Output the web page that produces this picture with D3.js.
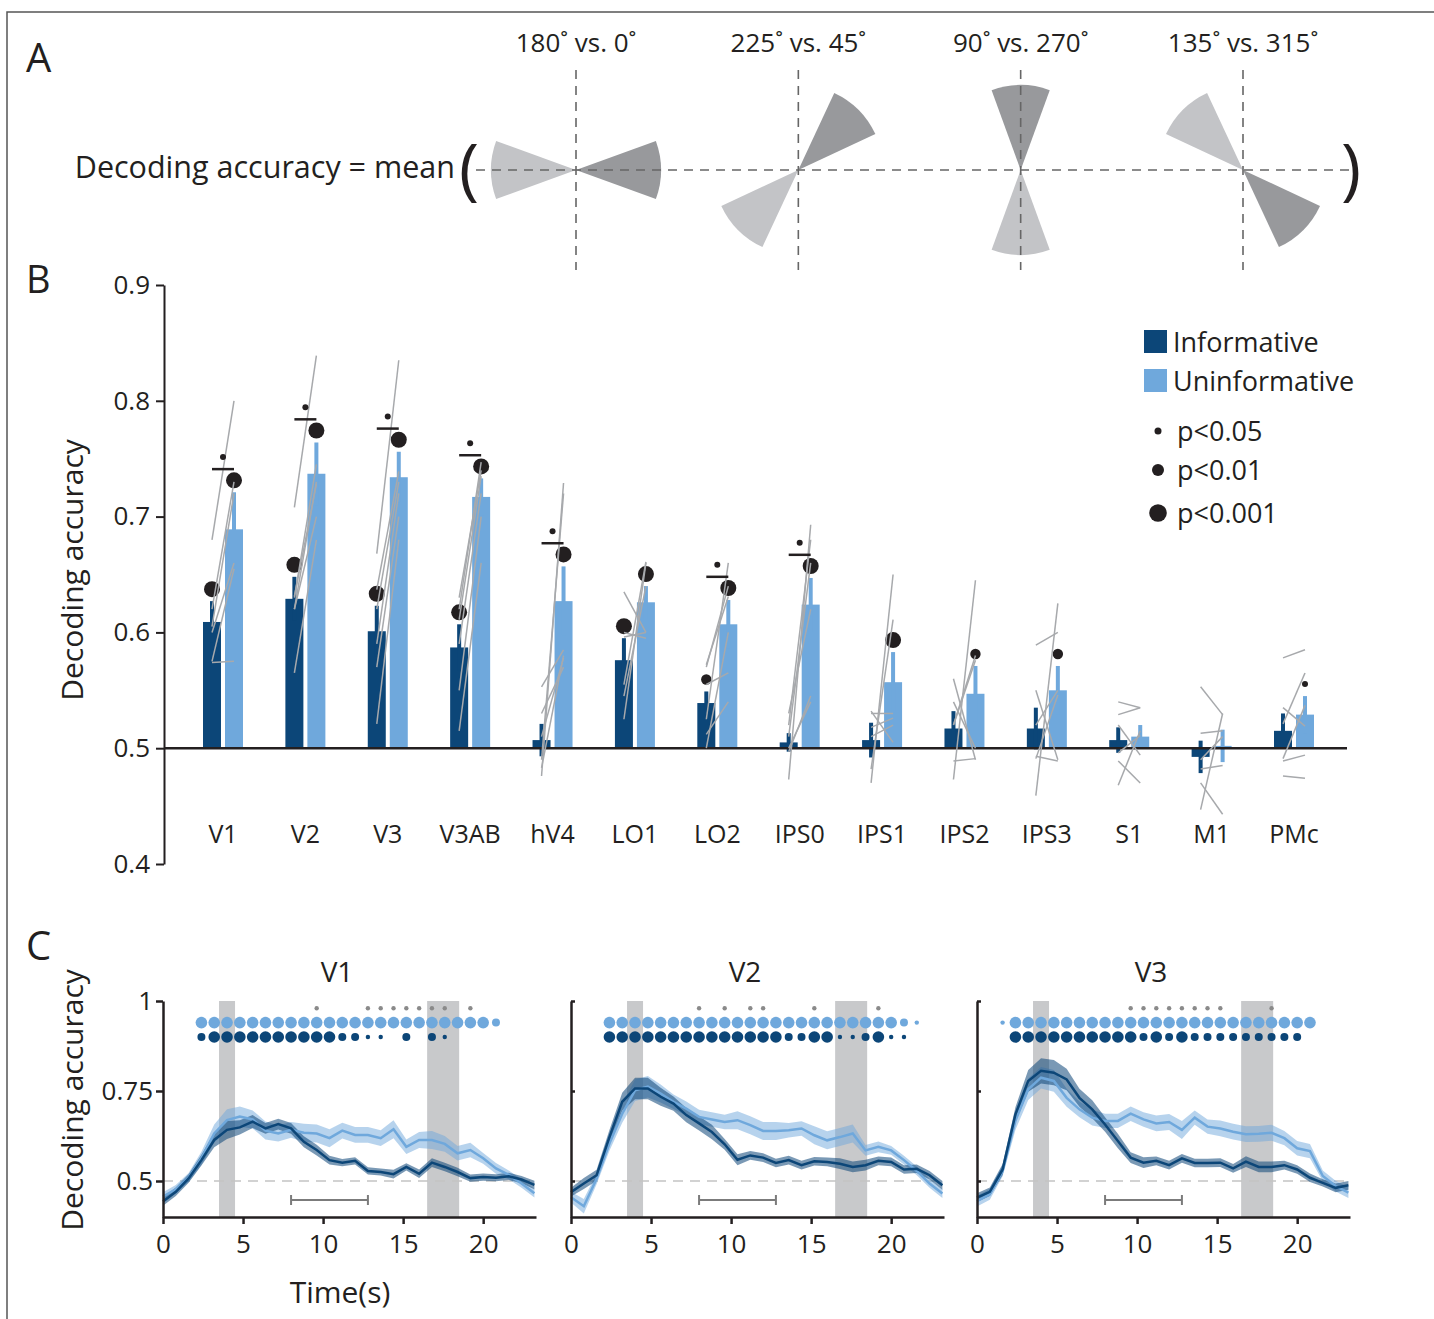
<!DOCTYPE html>
<html>
<head>
<meta charset="utf-8">
<script src="https://cdn.jsdelivr.net/npm/d3@7"></script>
<style>
  body { margin: 0; background: #fff; }
  text { font-family: "Open Sans", sans-serif; fill: #231f20; }
</style>
</head>
<body>
<div id="chart"></div>
<script>
// ---- panel A data ----
var pairLabels = ["180˚ vs. 0˚", "225˚ vs. 45˚", "90˚ vs. 270˚", "135˚ vs. 315˚"];
var lightAngles = [180, 225, 270, 135];
var darkAngles = [0, 45, 90, 315];

// ---- panel B data ----
var regions = ["V1", "V2", "V3", "V3AB", "hV4", "LO1", "LO2", "IPS0", "IPS1", "IPS2", "IPS3", "S1", "M1", "PMc"];
var infMean   = [0.609, 0.629, 0.601, 0.587, 0.507, 0.576, 0.539, 0.505, 0.507, 0.517, 0.517, 0.507, 0.4925, 0.515];
var infSem    = [0.018, 0.019, 0.022, 0.020, 0.014, 0.019, 0.010, 0.008, 0.015, 0.015, 0.018, 0.011, 0.014, 0.015];
var uninfMean = [0.689, 0.737, 0.734, 0.717, 0.627, 0.626, 0.607, 0.624, 0.557, 0.547, 0.550, 0.510, 0.502, 0.529];
var uninfSem  = [0.032, 0.027, 0.022, 0.016, 0.030, 0.014, 0.021, 0.023, 0.026, 0.024, 0.021, 0.010, 0.014, 0.016];
// 0 = n.s., 1 = p<0.05, 2 = p<0.01, 3 = p<0.001
var infSig    = [3, 3, 3, 3, 0, 3, 2, 0, 0, 0, 0, 0, 0, 0];
var uninfSig  = [3, 3, 3, 3, 3, 3, 3, 3, 3, 2, 2, 0, 0, 1];
var diffSig   = [1, 1, 1, 1, 1, 0, 1, 1, 0, 0, 0, 0, 0, 0];
// single subjects, informative / uninformative
var subjInf = [
    [0.680, 0.574, 0.620, 0.600, 0.575, 0.605],
    [0.708, 0.565, 0.620, 0.630, 0.620, 0.631],
    [0.668, 0.521, 0.570, 0.590, 0.620, 0.637],
    [0.515, 0.550, 0.590, 0.620, 0.611, 0.630],
    [0.476, 0.553, 0.530, 0.490, 0.483, 0.510],
    [0.525, 0.600, 0.545, 0.555, 0.596, 0.635],
    [0.512, 0.525, 0.570, 0.555, 0.500, 0.572],
    [0.473, 0.520, 0.510, 0.530, 0.497, 0.500],
    [0.482, 0.470, 0.532, 0.530, 0.510, 0.518],
    [0.473, 0.540, 0.560, 0.489, 0.520, 0.520],
    [0.459, 0.589, 0.493, 0.520, 0.550, 0.491],
    [0.540, 0.529, 0.468, 0.489, 0.496, 0.520],
    [0.553, 0.447, 0.482, 0.470, 0.490, 0.513],
    [0.578, 0.535, 0.521, 0.489, 0.476, 0.491]
];
var subjUninf = [
    [0.800, 0.575, 0.730, 0.660, 0.655, 0.720],
    [0.839, 0.680, 0.730, 0.745, 0.700, 0.728],
    [0.835, 0.680, 0.700, 0.720, 0.730, 0.739],
    [0.660, 0.700, 0.720, 0.747, 0.735, 0.740],
    [0.729, 0.585, 0.570, 0.720, 0.580, 0.578],
    [0.660, 0.595, 0.640, 0.661, 0.600, 0.600],
    [0.540, 0.660, 0.640, 0.565, 0.600, 0.631],
    [0.693, 0.680, 0.660, 0.620, 0.545, 0.540],
    [0.611, 0.650, 0.505, 0.530, 0.520, 0.526],
    [0.645, 0.500, 0.490, 0.491, 0.580, 0.576],
    [0.625, 0.600, 0.489, 0.550, 0.490, 0.546],
    [0.535, 0.535, 0.515, 0.470, 0.511, 0.494],
    [0.529, 0.530, 0.485, 0.443, 0.510, 0.515],
    [0.585, 0.519, 0.565, 0.494, 0.474, 0.537]
];

// ---- panel C data ----
var timeSec = [0, 0.8, 1.6, 2.4, 3.2, 4, 4.8, 5.6, 6.4, 7.2, 8, 8.8, 9.6, 10.4, 11.2, 12, 12.8, 13.6, 14.4, 15.2, 16, 16.8, 17.6, 18.4, 19.2, 20, 20.8, 21.6, 22.4, 23.2];
var timeTicks = [0, 5, 10, 15, 20];
var stimBands = [[3.5, 4.5], [16.5, 18.5]];
var delayWindow = [8, 12.8];

var v1Inf = [0.443, 0.470, 0.507, 0.558, 0.614, 0.642, 0.649, 0.665, 0.646, 0.658, 0.646, 0.609, 0.586, 0.558, 0.551, 0.556, 0.528, 0.525, 0.519, 0.539, 0.520, 0.551, 0.539, 0.525, 0.508, 0.511, 0.509, 0.513, 0.504, 0.489];
var v1InfSem = [0.012, 0.012, 0.012, 0.015, 0.020, 0.025, 0.020, 0.018, 0.015, 0.015, 0.015, 0.015, 0.015, 0.012, 0.010, 0.010, 0.010, 0.010, 0.012, 0.010, 0.012, 0.012, 0.012, 0.012, 0.010, 0.010, 0.010, 0.010, 0.010, 0.012];
var v1Uninf = [0.457, 0.477, 0.510, 0.563, 0.632, 0.669, 0.679, 0.671, 0.640, 0.632, 0.642, 0.634, 0.632, 0.619, 0.640, 0.628, 0.628, 0.619, 0.644, 0.595, 0.614, 0.614, 0.603, 0.577, 0.586, 0.563, 0.535, 0.517, 0.493, 0.466];
var v1UninfSem = [0.012, 0.012, 0.012, 0.018, 0.025, 0.030, 0.028, 0.025, 0.025, 0.022, 0.022, 0.025, 0.025, 0.025, 0.022, 0.022, 0.022, 0.022, 0.025, 0.020, 0.022, 0.025, 0.022, 0.020, 0.020, 0.015, 0.015, 0.012, 0.012, 0.012];
var v1SigInf   = [0, 0, 0, 2, 3, 3, 3, 3, 3, 3, 3, 3, 3, 3, 2, 2, 1, 1, 0, 2, 0, 2, 1, 0, 0, 0, 0, 0, 0, 0];
var v1SigUninf = [0, 0, 0, 3, 3, 3, 3, 3, 3, 3, 3, 3, 3, 3, 3, 3, 3, 3, 3, 3, 3, 3, 3, 3, 3, 3, 2, 0, 0, 0];
var v1SigDiff  = [0, 0, 0, 0, 0, 0, 0, 0, 0, 0, 0, 0, 1, 0, 0, 0, 1, 1, 1, 1, 1, 1, 1, 0, 1, 0, 0, 0, 0, 0];

var v2Inf = [0.469, 0.493, 0.516, 0.622, 0.720, 0.757, 0.757, 0.734, 0.715, 0.683, 0.660, 0.636, 0.602, 0.559, 0.571, 0.565, 0.550, 0.558, 0.544, 0.555, 0.553, 0.548, 0.539, 0.544, 0.556, 0.553, 0.532, 0.534, 0.516, 0.488];
var v2InfSem = [0.012, 0.015, 0.015, 0.020, 0.025, 0.030, 0.030, 0.025, 0.020, 0.020, 0.020, 0.020, 0.015, 0.015, 0.012, 0.012, 0.012, 0.012, 0.012, 0.012, 0.012, 0.015, 0.015, 0.015, 0.012, 0.012, 0.012, 0.012, 0.012, 0.012];
var v2Uninf = [0.455, 0.430, 0.506, 0.604, 0.687, 0.752, 0.762, 0.743, 0.720, 0.701, 0.678, 0.671, 0.664, 0.669, 0.655, 0.639, 0.639, 0.641, 0.646, 0.627, 0.613, 0.622, 0.632, 0.585, 0.595, 0.585, 0.558, 0.528, 0.493, 0.465];
var v2UninfSem = [0.015, 0.020, 0.015, 0.020, 0.025, 0.030, 0.030, 0.025, 0.020, 0.020, 0.020, 0.020, 0.020, 0.025, 0.025, 0.025, 0.025, 0.020, 0.020, 0.025, 0.025, 0.025, 0.025, 0.015, 0.015, 0.012, 0.012, 0.012, 0.012, 0.012];
var v2SigInf   = [0, 0, 0, 3, 3, 3, 3, 3, 3, 3, 3, 3, 3, 3, 3, 3, 3, 2, 2, 3, 3, 1, 1, 2, 3, 1, 1, 0, 0, 0];
var v2SigUninf = [0, 0, 0, 3, 3, 3, 3, 3, 3, 3, 3, 3, 3, 3, 3, 3, 3, 3, 3, 3, 3, 3, 3, 3, 3, 3, 2, 1, 0, 0];
var v2SigDiff  = [0, 0, 0, 0, 0, 0, 0, 0, 0, 0, 1, 0, 1, 0, 1, 1, 0, 0, 0, 1, 0, 0, 0, 0, 1, 0, 0, 0, 0, 0];

var v3Inf = [0.454, 0.470, 0.532, 0.685, 0.778, 0.806, 0.801, 0.782, 0.731, 0.699, 0.657, 0.611, 0.565, 0.551, 0.556, 0.544, 0.563, 0.550, 0.550, 0.551, 0.535, 0.554, 0.539, 0.539, 0.544, 0.532, 0.509, 0.495, 0.481, 0.488];
var v3InfSem = [0.012, 0.012, 0.015, 0.020, 0.030, 0.035, 0.035, 0.030, 0.025, 0.025, 0.020, 0.020, 0.015, 0.015, 0.012, 0.012, 0.012, 0.012, 0.012, 0.012, 0.012, 0.015, 0.015, 0.015, 0.012, 0.012, 0.012, 0.010, 0.012, 0.012];
var v3Uninf = [0.444, 0.463, 0.528, 0.667, 0.755, 0.787, 0.778, 0.731, 0.699, 0.676, 0.667, 0.667, 0.687, 0.671, 0.660, 0.664, 0.642, 0.676, 0.651, 0.646, 0.637, 0.630, 0.631, 0.634, 0.619, 0.591, 0.583, 0.514, 0.486, 0.468];
var v3UninfSem = [0.015, 0.015, 0.015, 0.025, 0.030, 0.030, 0.030, 0.025, 0.022, 0.022, 0.020, 0.020, 0.020, 0.020, 0.022, 0.022, 0.025, 0.020, 0.020, 0.022, 0.022, 0.022, 0.022, 0.022, 0.020, 0.020, 0.020, 0.015, 0.015, 0.015];
var v3SigInf   = [0, 0, 0, 3, 3, 3, 3, 3, 3, 3, 3, 3, 3, 2, 3, 2, 3, 2, 2, 2, 2, 2, 2, 2, 2, 2, 0, 0, 0, 0];
var v3SigUninf = [0, 0, 1, 3, 3, 3, 3, 3, 3, 3, 3, 3, 3, 3, 3, 3, 3, 3, 3, 3, 3, 3, 3, 3, 3, 3, 3, 0, 0, 0];
var v3SigDiff  = [0, 0, 0, 0, 0, 0, 0, 0, 0, 0, 0, 0, 1, 1, 1, 1, 1, 1, 1, 1, 0, 0, 0, 1, 0, 0, 0, 0, 0, 0];

// colours
var darkBlue = "#0c4678";
var lightBlue = "#6fa8dc";
var ink = "#231f20";

var svg = d3.select("#chart")
    .append("svg")
    .attr("width", 1434)
    .attr("height", 1319);

// frame round the figure
svg.append("path")
    .attr("d", "M1434,12H7V1319")
    .attr("fill", "none")
    .attr("stroke", "#555")
    .attr("stroke-width", 1.5);

// ================= panel A =================
svg.append("text").attr("x", 26).attr("y", 72).attr("font-size", 40).text("A");

var aX = d3.scalePoint().domain(pairLabels).range([576, 1243]);
var aY = 170;
var wedge = d3.arc().innerRadius(0).outerRadius(85);
var half = 20 * Math.PI / 180;
function toArc(deg) { return (90 - deg) * Math.PI / 180; }

svg.append("text")
    .attr("x", 455).attr("y", 178)
    .attr("text-anchor", "end")
    .attr("font-size", 30.5)
    .text("Decoding accuracy = mean");
svg.append("text").attr("x", 459).attr("y", 192).attr("font-size", 68).text("(");
svg.append("text").attr("x", 1341).attr("y", 192).attr("font-size", 68).text(")");

var pairs = svg.selectAll("g.pair")
    .data(pairLabels)
    .enter()
    .append("g")
    .attr("class", "pair")
    .attr("transform", function(d) { return "translate(" + aX(d) + "," + aY + ")"; });

pairs.append("path")
    .attr("d", function(d, i) {
        var a = toArc(lightAngles[i]);
        return wedge({ startAngle: a - half, endAngle: a + half });
    })
    .attr("fill", "#c3c4c7");
pairs.append("path")
    .attr("d", function(d, i) {
        var a = toArc(darkAngles[i]);
        return wedge({ startAngle: a - half, endAngle: a + half });
    })
    .attr("fill", "#98999c");

// dashed guides
svg.append("line")
    .attr("x1", 476).attr("x2", 1350).attr("y1", aY).attr("y2", aY)
    .attr("stroke", "#666").attr("stroke-width", 1.6).attr("stroke-dasharray", "9,7");
pairs.append("line")
    .attr("x1", 0).attr("x2", 0).attr("y1", -100).attr("y2", 100)
    .attr("stroke", "#666").attr("stroke-width", 1.6).attr("stroke-dasharray", "9,7");
pairs.append("text")
    .attr("x", 0).attr("y", -118)
    .attr("text-anchor", "middle")
    .attr("font-size", 26)
    .text(function(d) { return d; });

// ================= panel B =================
svg.append("text").attr("x", 26).attr("y", 293).attr("font-size", 38).text("B");

var yB = d3.scaleLinear().domain([0.4, 0.9]).range([864, 285]);
var xB = d3.scalePoint().domain(regions).range([223, 1294]);
var barW = 18, off = 11;
var sigR = [0, 3, 5.2, 8];

var axisB = svg.append("g")
    .attr("transform", "translate(164,0)")
    .call(d3.axisLeft(yB)
        .tickValues([0.4, 0.5, 0.6, 0.7, 0.8, 0.9])
        .tickFormat(d3.format(".1f"))
        .tickSize(8)
        .tickSizeOuter(0));
axisB.selectAll("path, line").attr("stroke", ink).attr("stroke-width", 2);
axisB.selectAll("text").attr("font-size", 26).attr("font-family", "Open Sans").attr("fill", ink).attr("dx", "-3");

svg.append("text")
    .attr("transform", "translate(83,570) rotate(-90)")
    .attr("text-anchor", "middle")
    .attr("font-size", 30)
    .text("Decoding accuracy");

// bars
function barY(v) { return Math.min(yB(v), yB(0.5)); }
function barH(v) { return Math.abs(yB(v) - yB(0.5)); }

svg.selectAll("rect.inf")
    .data(regions)
    .enter()
    .append("rect")
    .attr("x", function(d) { return xB(d) - off - barW / 2; })
    .attr("y", function(d, i) { return barY(infMean[i]); })
    .attr("width", barW)
    .attr("height", function(d, i) { return barH(infMean[i]); })
    .attr("fill", darkBlue);
svg.selectAll("rect.uninf")
    .data(regions)
    .enter()
    .append("rect")
    .attr("x", function(d) { return xB(d) + off - barW / 2; })
    .attr("y", function(d, i) { return barY(uninfMean[i]); })
    .attr("width", barW)
    .attr("height", function(d, i) { return barH(uninfMean[i]); })
    .attr("fill", lightBlue);

// error bars
svg.selectAll("rect.infErr")
    .data(regions)
    .enter()
    .append("rect")
    .attr("x", function(d) { return xB(d) - off - 2; })
    .attr("y", function(d, i) { return yB(infMean[i] + infSem[i]); })
    .attr("width", 4)
    .attr("height", function(d, i) { return yB(infMean[i] - infSem[i]) - yB(infMean[i] + infSem[i]); })
    .attr("fill", darkBlue);
svg.selectAll("rect.uninfErr")
    .data(regions)
    .enter()
    .append("rect")
    .attr("x", function(d) { return xB(d) + off - 2; })
    .attr("y", function(d, i) { return yB(uninfMean[i] + uninfSem[i]); })
    .attr("width", 4)
    .attr("height", function(d, i) { return yB(uninfMean[i] - uninfSem[i]) - yB(uninfMean[i] + uninfSem[i]); })
    .attr("fill", lightBlue);

// chance line
svg.append("line")
    .attr("x1", 164).attr("x2", 1347)
    .attr("y1", yB(0.5)).attr("y2", yB(0.5))
    .attr("stroke", ink).attr("stroke-width", 2.5);

// significance against chance
svg.selectAll("circle.infSig")
    .data(regions.filter(function(d, i) { return infSig[i] > 0; }))
    .enter()
    .append("circle")
    .attr("cx", function(d) { return xB(d) - off; })
    .attr("cy", function(d) { var i = regions.indexOf(d); return yB(infMean[i] + infSem[i]) - 12; })
    .attr("r", function(d) { return sigR[infSig[regions.indexOf(d)]]; })
    .attr("fill", ink);
svg.selectAll("circle.uninfSig")
    .data(regions.filter(function(d, i) { return uninfSig[i] > 0; }))
    .enter()
    .append("circle")
    .attr("cx", function(d) { return xB(d) + off; })
    .attr("cy", function(d) { var i = regions.indexOf(d); return yB(uninfMean[i] + uninfSem[i]) - 12; })
    .attr("r", function(d) { return sigR[uninfSig[regions.indexOf(d)]]; })
    .attr("fill", ink);

// single subject lines
regions.forEach(function(r, i) {
    svg.selectAll(null)
        .data(subjInf[i])
        .enter()
        .append("line")
        .attr("x1", xB(r) - off)
        .attr("x2", xB(r) + off)
        .attr("y1", function(d) { return yB(d); })
        .attr("y2", function(d, j) { return yB(subjUninf[i][j]); })
        .attr("stroke", "#a7a9ac")
        .attr("stroke-width", 1.5);
});

// informative vs uninformative difference
var diffRegions = regions.filter(function(d, i) { return diffSig[i] > 0; });
svg.selectAll("line.diff")
    .data(diffRegions)
    .enter()
    .append("line")
    .attr("x1", function(d) { return xB(d) - off; })
    .attr("x2", function(d) { return xB(d) + off; })
    .attr("y1", function(d) { var i = regions.indexOf(d); return yB(uninfMean[i] + uninfSem[i] + 0.02); })
    .attr("y2", function(d) { var i = regions.indexOf(d); return yB(uninfMean[i] + uninfSem[i] + 0.02); })
    .attr("stroke", ink).attr("stroke-width", 2.5);
svg.selectAll("circle.diff")
    .data(diffRegions)
    .enter()
    .append("circle")
    .attr("cx", function(d) { return xB(d); })
    .attr("cy", function(d) { var i = regions.indexOf(d); return yB(uninfMean[i] + uninfSem[i] + 0.02) - 12; })
    .attr("r", 3)
    .attr("fill", ink);

// region labels
svg.selectAll("text.region")
    .data(regions)
    .enter()
    .append("text")
    .attr("x", function(d) { return xB(d); })
    .attr("y", 843)
    .attr("text-anchor", "middle")
    .attr("font-size", 25)
    .text(function(d) { return d; });

// legend
var legendKeys = [["Informative", darkBlue], ["Uninformative", lightBlue]];
legendKeys.forEach(function(k, i) {
    svg.append("rect").attr("x", 1144).attr("y", 330 + i * 39).attr("width", 23).attr("height", 23).attr("fill", k[1]);
    svg.append("text").attr("x", 1173).attr("y", 352 + i * 39).attr("font-size", 27).text(k[0]);
});
var legendP = [["p<0.05", 3.5], ["p<0.01", 6], ["p<0.001", 8.8]];
legendP.forEach(function(k, i) {
    var cy = [431, 470, 513][i];
    svg.append("circle").attr("cx", 1158).attr("cy", cy).attr("r", k[1]).attr("fill", ink);
    svg.append("text").attr("x", 1177).attr("y", cy + 10).attr("font-size", 27).text(k[0]);
});

// ================= panel C =================
svg.append("text").attr("x", 26).attr("y", 960).attr("font-size", 40).text("C");

var panels = [
    { name: "V1", x0: 163, inf: v1Inf, infSem: v1InfSem, uninf: v1Uninf, uninfSem: v1UninfSem, sInf: v1SigInf, sUninf: v1SigUninf, sDiff: v1SigDiff },
    { name: "V2", x0: 571, inf: v2Inf, infSem: v2InfSem, uninf: v2Uninf, uninfSem: v2UninfSem, sInf: v2SigInf, sUninf: v2SigUninf, sDiff: v2SigDiff },
    { name: "V3", x0: 977, inf: v3Inf, infSem: v3InfSem, uninf: v3Uninf, uninfSem: v3UninfSem, sInf: v3SigInf, sUninf: v3SigUninf, sDiff: v3SigDiff }
];
var xC = d3.scaleLinear().domain([0, 23.3]).range([0, 373]);
var yC = d3.scaleLinear().domain([0.4, 1]).range([1217, 1001]);
var dotR = [0, 2.2, 4, 5.8];

panels.forEach(function(p, pi) {
    var g = svg.append("g").attr("transform", "translate(" + p.x0 + ",0)");

    // stimulus periods
    g.selectAll("rect.stim")
        .data(stimBands)
        .enter()
        .append("rect")
        .attr("x", function(d) { return xC(d[0]); })
        .attr("width", function(d) { return xC(d[1]) - xC(d[0]); })
        .attr("y", yC(1))
        .attr("height", yC(0.4) - yC(1))
        .attr("fill", "#c8c9cb");

    // chance
    g.append("line")
        .attr("x1", 0).attr("x2", xC(23.3))
        .attr("y1", yC(0.5)).attr("y2", yC(0.5))
        .attr("stroke", "#c4c4c4").attr("stroke-width", 1.5).attr("stroke-dasharray", "10,7");

    // delay window
    var wy = yC(0.447);
    g.append("path")
        .attr("d", "M" + xC(delayWindow[0]) + "," + (wy - 5) + "V" + (wy + 5) +
            "M" + xC(delayWindow[0]) + "," + wy + "H" + xC(delayWindow[1]) +
            "M" + xC(delayWindow[1]) + "," + (wy - 5) + "V" + (wy + 5))
        .attr("fill", "none").attr("stroke", "#7b7b7b").attr("stroke-width", 2);

    // SEM bands and means
    var series = [
        { m: p.uninf, s: p.uninfSem, c: lightBlue, fo: 0.5 },
        { m: p.inf, s: p.infSem, c: darkBlue, fo: 0.55 }
    ];
    series.forEach(function(s) {
        var area = d3.area()
            .x(function(d, i) { return xC(timeSec[i]); })
            .y0(function(d, i) { return yC(d - s.s[i]); })
            .y1(function(d, i) { return yC(d + s.s[i]); });
        g.append("path").datum(s.m).attr("d", area).attr("fill", s.c).attr("fill-opacity", s.fo);
    });
    series.forEach(function(s) {
        var line = d3.line()
            .x(function(d, i) { return xC(timeSec[i]); })
            .y(function(d) { return yC(d); });
        g.append("path").datum(s.m).attr("d", line).attr("fill", "none").attr("stroke", s.c).attr("stroke-width", 2.5);
    });

    // significance rows
    var rows = [
        { sig: p.sDiff, v: 0.98, c: "#8a8a8a", r: function() { return 2.2; } },
        { sig: p.sUninf, v: 0.94, c: lightBlue, r: function(d) { return dotR[d]; } },
        { sig: p.sInf, v: 0.90, c: darkBlue, r: function(d) { return dotR[d]; } }
    ];
    rows.forEach(function(row) {
        g.selectAll(null)
            .data(timeSec.filter(function(t, i) { return row.sig[i] > 0; }))
            .enter()
            .append("circle")
            .attr("cx", function(t) { return xC(t); })
            .attr("cy", yC(row.v))
            .attr("r", function(t) { return row.r(row.sig[timeSec.indexOf(t)]); })
            .attr("fill", row.c);
    });

    // axes
    var ax = g.append("g")
        .attr("transform", "translate(0," + yC(0.4) + ")")
        .call(d3.axisBottom(xC).tickValues(timeTicks).tickSize(7).tickSizeOuter(0));
    ax.selectAll("text").attr("font-size", 26).attr("font-family", "Open Sans").attr("fill", ink).attr("dy", "1em");
    var ay = g.append("g")
        .call(d3.axisLeft(yC)
            .tickValues([0.5, 0.75, 1])
            .tickSize(pi === 0 ? 7 : -4)
            .tickSizeOuter(0)
            .tickFormat(function(d) { return pi === 0 ? (d === 1 ? "1" : String(d)) : ""; }));
    ay.selectAll("text").attr("font-size", 26).attr("font-family", "Open Sans").attr("fill", ink);
    g.selectAll(".domain, .tick line").attr("stroke", ink).attr("stroke-width", 2.5);

    g.append("text")
        .attr("x", 174).attr("y", 982)
        .attr("text-anchor", "middle")
        .attr("font-size", 28)
        .text(p.name);
});

svg.append("text")
    .attr("x", 340).attr("y", 1303)
    .attr("text-anchor", "middle")
    .attr("font-size", 30)
    .text("Time(s)");
svg.append("text")
    .attr("transform", "translate(83,1100) rotate(-90)")
    .attr("text-anchor", "middle")
    .attr("font-size", 30)
    .text("Decoding accuracy");
</script>
</body>
</html>
